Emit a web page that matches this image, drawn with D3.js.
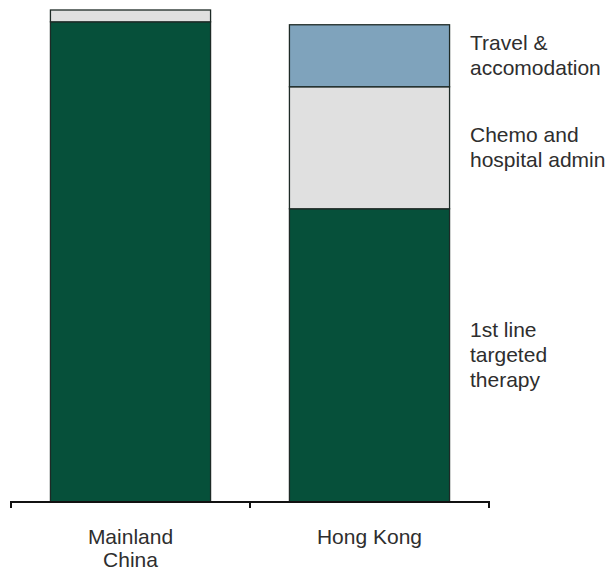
<!DOCTYPE html>
<html>
<head>
<meta charset="utf-8">
<script src="https://cdn.jsdelivr.net/npm/d3@7"></script>
<style>
  html, body { margin: 0; padding: 0; background: #fff; }
  svg text { font-family: "Liberation Sans", Arial, sans-serif; fill: #2e2e2e; }
</style>
</head>
<body>
<svg id="chart" width="610" height="572"></svg>
<script>
// Cost components per region (relative cost units)
const regions = ["Mainland China", "Hong Kong"];
const regionLines = [["Mainland", "China"], ["Hong Kong"]];
const components = ["targeted", "chemo", "travel"];
const componentLines = [["1st line", "targeted", "therapy"], ["Chemo and", "hospital admin"], ["Travel &", "accomodation"]];
const targetedCost = [488, 298];
const chemoCost = [12, 124];
const travelCost = [0, 63];
const colors = ["#06503a", "#e0e0e0", "#7fa3bc"];

const rows = regions.map((r, i) => ({
  region: r,
  targeted: targetedCost[i],
  chemo: chemoCost[i],
  travel: travelCost[i]
}));

const svg = d3.select("#chart");
const baseY = 502;

const x = d3.scaleBand()
  .domain(regions)
  .range([11, 489])
  .paddingInner(0.33)
  .paddingOuter(0.165);

const y = d3.scaleLinear()
  .domain([0, 500])
  .range([baseY, 10]);

const stack = d3.stack().keys(components);
const series = stack(rows);

// Stacked bars
svg.append("g")
  .selectAll("g")
  .data(series)
  .join("g")
  .attr("fill", (d, i) => colors[i])
  .selectAll("rect")
  .data(d => d.filter(s => s[1] - s[0] > 0))
  .join("rect")
  .attr("x", d => x(d.data.region))
  .attr("width", x.bandwidth())
  .attr("y", d => y(d[1]))
  .attr("height", d => y(d[0]) - y(d[1]))
  .attr("stroke", "#1e2a26")
  .attr("stroke-width", 1.3);

// Baseline axis with category boundary ticks
const step = x.step();
const left = x.range()[0];
const axis = svg.append("g").attr("stroke", "#111").attr("stroke-width", 2).attr("fill", "none");
axis.append("line")
  .attr("x1", left).attr("x2", x.range()[1])
  .attr("y1", baseY).attr("y2", baseY);
d3.range(regions.length + 1).forEach(i => {
  axis.append("line")
    .attr("x1", left + i * step).attr("x2", left + i * step)
    .attr("y1", baseY - 1).attr("y2", baseY + 6);
});

// Category labels
regions.forEach((r, i) => {
  const t = svg.append("text")
    .attr("text-anchor", "middle")
    .attr("font-size", 21)
    .attr("x", x(r) + x.bandwidth() / 2)
    .attr("y", 544);
  regionLines[i].forEach((ln, j) => {
    t.append("tspan")
      .attr("x", x(r) + x.bandwidth() / 2)
      .attr("dy", j === 0 ? 0 : 23)
      .text(ln);
  });
});

// Series labels beside the last bar, centred on each segment
const lastSeries = series.map(s => s[s.length - 1]);
components.forEach((c, i) => {
  const seg = lastSeries[i];
  const mid = (y(seg[0]) + y(seg[1])) / 2;
  const lines = componentLines[i];
  const lineH = 25;
  const firstBase = mid + 7 - (lines.length - 1) * lineH / 2;
  const t = svg.append("text")
    .attr("font-size", 21)
    .attr("x", 470)
    .attr("y", firstBase);
  lines.forEach((ln, j) => {
    t.append("tspan")
      .attr("x", 470)
      .attr("dy", j === 0 ? 0 : lineH)
      .text(ln);
  });
});
</script>
</body>
</html>
